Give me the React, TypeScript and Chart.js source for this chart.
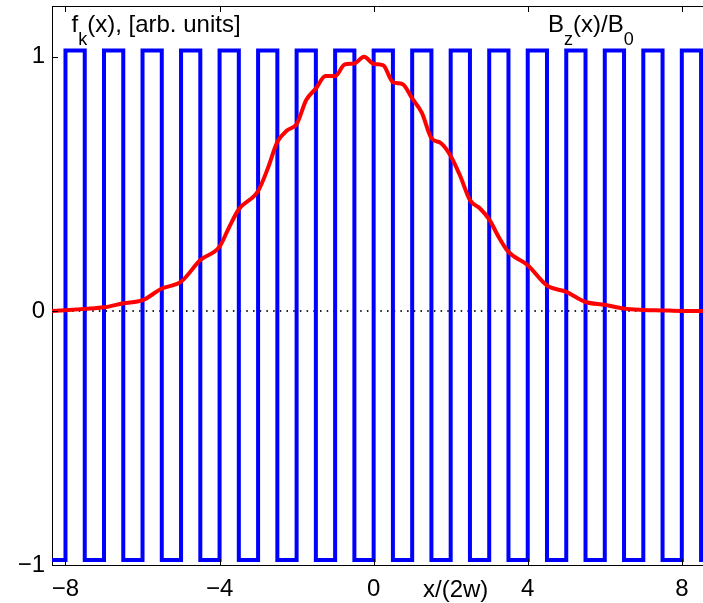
import React, { useEffect, useRef } from "react";
import { Chart, registerables } from "chart.js";

Chart.register(...registerables);

// ---- data ----
const xTickValues = [-8, -4, 0, 4, 8];
const yTickValues = [-1, 0, 1];

const waveX = [
  -8.35, -8, -7.5, -7, -6.5, -6, -5.5, -5, -4.5, -4, -3.5, -3, -2.5, -2, -1.5, -1, -0.5,
  0, 0.5, 1, 1.5, 2, 2.5, 3, 3.5, 4, 4.5, 5, 5.5, 6, 6.5, 7, 7.5, 8, 8.5, 8.55,
];
const waveY = [
  -0.98, 1.025, -0.98, 1.025, -0.98, 1.025, -0.98, 1.025, -0.98, 1.025, -0.98, 1.025, -0.98,
  1.025, -0.98, 1.025, -0.98, 1.025, -0.98, 1.025, -0.98, 1.025, -0.98, 1.025, -0.98, 1.025,
  -0.98, 1.025, -0.98, 1.025, -0.98, 1.025, -0.98, 1.025, -0.98, -0.98,
];

const fX = [
  -8.35, -8, -7.5, -7, -6.5, -6, -5.5, -5, -4.5, -4, -3.75, -3.5, -3, -2.75, -2.5, -2.25, -2,
  -1.75, -1.5, -1.25, -1, -0.75, -0.5, -0.25, 0, 0.25, 0.5, 0.75, 1, 1.25, 1.5, 1.75, 2, 2.25,
  2.5, 2.75, 3, 3.25, 3.5, 4, 4.5, 5, 5.5, 6, 6.5, 7, 7.5, 8, 8.55,
];
const fY = [
  0.0, 0.003, 0.008, 0.014, 0.03, 0.042, 0.088, 0.115, 0.2, 0.253, 0.33, 0.4, 0.472, 0.56,
  0.665, 0.71, 0.735, 0.83, 0.875, 0.925, 0.924, 0.97, 0.974, 1.0, 0.972, 0.966, 0.9, 0.893,
  0.836, 0.78, 0.68, 0.66, 0.61, 0.53, 0.436, 0.405, 0.36, 0.29, 0.232, 0.18, 0.1, 0.075,
  0.035, 0.024, 0.009, 0.004, 0.002, 0.0, 0.0,
];

const zeroX = [-8.35, 8.55];
const zeroY = [0, 0];

const leftTitle = { main: "f", sub: "k", rest: "(x), [arb. units]" };
const rightTitle = ["B", "z", "(x)/B", "0"];
const xAxisTitle = "x/(2w)";

const FONT = '"Liberation Sans", Arial, Helvetica, sans-serif';

const fmt = (v: number) => (v < 0 ? "\u2212" + Math.abs(v) : String(v));

const framePlugin = {
  id: "frame",
  afterDraw(chart: any) {
    const { ctx, chartArea } = chart;
    const xs = chart.scales.x;
    const ys = chart.scales.y;
    ctx.save();
    ctx.strokeStyle = "#000";
    ctx.lineWidth = 1;
    // top border
    ctx.beginPath();
    ctx.moveTo(chartArea.left, chartArea.top + 0.5);
    ctx.lineTo(chartArea.right, chartArea.top + 0.5);
    ctx.stroke();
    // inward ticks
    const tl = 6;
    ctx.beginPath();
    xTickValues.forEach((v) => {
      const px = Math.round(xs.getPixelForValue(v)) + 0.5;
      ctx.moveTo(px, chartArea.bottom);
      ctx.lineTo(px, chartArea.bottom - tl);
      ctx.moveTo(px, chartArea.top);
      ctx.lineTo(px, chartArea.top + tl);
    });
    yTickValues.forEach((v) => {
      const py = Math.round(ys.getPixelForValue(v)) + 0.5;
      ctx.moveTo(chartArea.left, py);
      ctx.lineTo(chartArea.left + tl, py);
    });
    ctx.stroke();

    ctx.fillStyle = "#000";
    ctx.textBaseline = "alphabetic";
    ctx.textAlign = "left";
    const big = `24px ${FONT}`;
    const small = `18px ${FONT}`;
    // left title
    let x = 71.5;
    ctx.font = big;
    ctx.fillText(leftTitle.main, x, 32);
    x += ctx.measureText(leftTitle.main).width;
    ctx.font = small;
    ctx.fillText(leftTitle.sub, x, 45);
    x += ctx.measureText(leftTitle.sub).width;
    ctx.font = big;
    ctx.fillText(leftTitle.rest, x, 32);
    // right title
    x = 548;
    rightTitle.forEach((t, i) => {
      const isSub = i % 2 === 1;
      ctx.font = isSub ? small : big;
      ctx.fillText(t, x, isSub ? 45 : 32);
      x += ctx.measureText(t).width;
    });
    // x axis title
    ctx.font = big;
    ctx.fillText(xAxisTitle, 423, 597);
    ctx.restore();
  },
};

export default function App() {
  const ref = useRef<HTMLCanvasElement | null>(null);
  useEffect(() => {
    if (!ref.current) return;
    const chart = new Chart(ref.current, {
      type: "line",
      data: {
        datasets: [
          {
            data: fX.map((x, i) => ({ x, y: fY[i] })),
            borderColor: "#ff0000",
            borderWidth: 4,
            pointRadius: 0,
            cubicInterpolationMode: "monotone",
            order: 0,
          },
          {
            data: waveX.map((x, i) => ({ x, y: waveY[i] })),
            borderColor: "#0000ff",
            borderWidth: 4,
            pointRadius: 0,
            stepped: true,
            borderJoinStyle: "miter",
            order: 1,
          },
          {
            data: zeroX.map((x, i) => ({ x, y: zeroY[i] })),
            borderColor: "#222222",
            borderWidth: 2,
            borderDash: [1.5, 5.2],
            pointRadius: 0,
            order: 2,
          },
        ],
      },
      options: {
        animation: false,
        responsive: false,
        layout: { padding: { top: 6, right: 0, left: 0, bottom: 0 } },
        plugins: { legend: { display: false }, tooltip: { enabled: false } },
        scales: {
          x: {
            type: "linear",
            min: -8.35,
            max: 8.55,
            afterBuildTicks: (s: any) => {
              s.ticks = xTickValues.map((value) => ({ value }));
            },
            afterFit: (s: any) => {
              s.height = 38;
              s.paddingLeft = 0;
              s.paddingRight = 0;
            },
            grid: { display: false, drawTicks: false },
            border: { display: true, color: "#000", width: 1 },
            ticks: {
              color: "#000",
              font: { family: FONT, size: 24 },
              padding: 10,
              maxRotation: 0,
              autoSkip: false,
              callback: (v: any) => fmt(Number(v)),
            },
          },
          y: {
            type: "linear",
            min: -1,
            max: 1.2,
            afterBuildTicks: (s: any) => {
              s.ticks = yTickValues.map((value) => ({ value }));
            },
            afterFit: (s: any) => {
              s.width = 52;
              s.paddingTop = 0;
              s.paddingBottom = 0;
            },
            grid: { display: false, drawTicks: false },
            border: { display: true, color: "#000", width: 1 },
            ticks: {
              color: "#000",
              font: { family: FONT, size: 24 },
              padding: 7,
              autoSkip: false,
              callback: (v: any) => fmt(Number(v)),
            },
          },
        },
      } as any,
      plugins: [framePlugin],
    });
    return () => chart.destroy();
  }, []);
  return (
    <div style={{ position: "fixed", left: 0, top: 0, width: 703, height: 603, background: "#fff" }}>
      <canvas ref={ref} width={703} height={603} style={{ width: 703, height: 603, display: "block" }} />
    </div>
  );
}
